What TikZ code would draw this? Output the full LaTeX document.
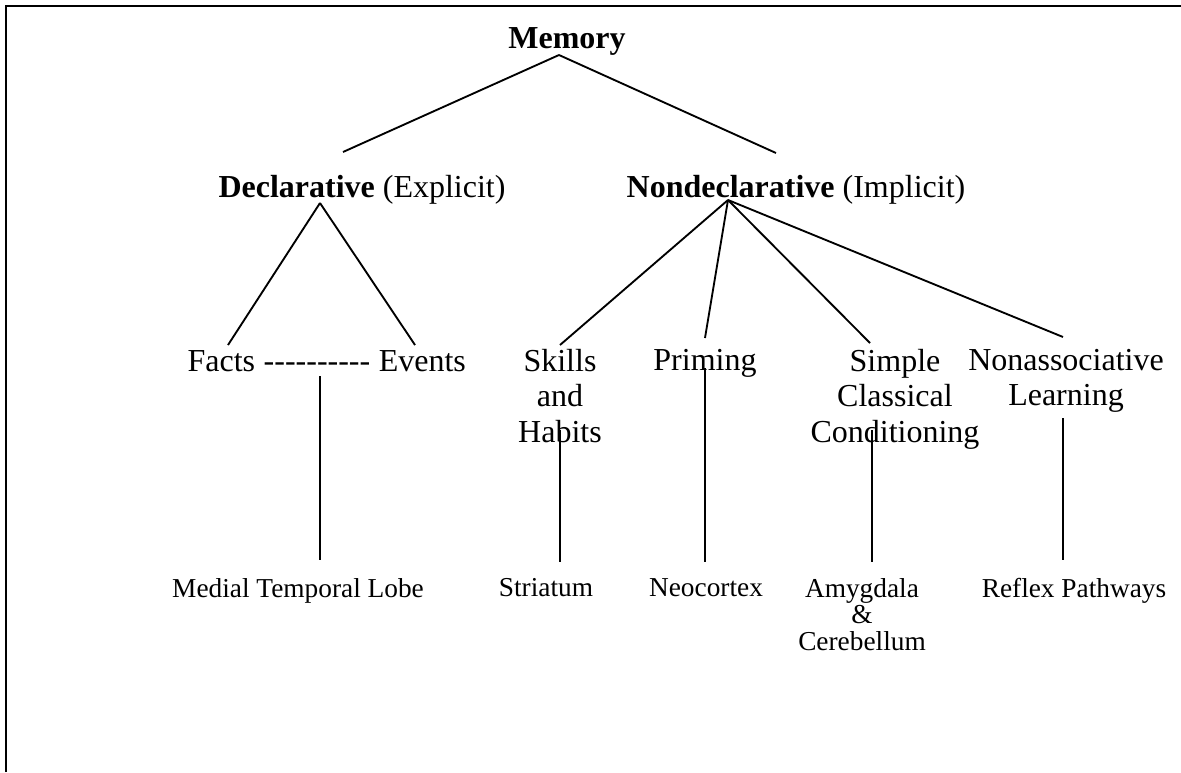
\documentclass[tikz,border=0pt]{standalone}
\usepackage{fontspec}
\setmainfont{Liberation Serif}[Ligatures=TeXOff]
\usepackage{tikz}
\usetikzlibrary{positioning}

\begin{document}
\begin{tikzpicture}[x=0.75pt, y=-0.75pt,
    big/.style={font=\fontsize{24}{26.5}\selectfont, inner sep=0pt, align=center},
    small/.style={font=\fontsize{20.5}{20}\selectfont, inner sep=0pt, align=center},
    link/.style={line width=1.4pt}]
    \useasboundingbox (0,0) rectangle (1181,772);
    \draw[line width=2pt] (6,772) -- (6,6) -- (1181,6);

    % top levels
    \node[big, anchor=base] (mem) at (567,48) {\textbf{Memory}};
    \node[big, anchor=base] (decl) at (362,197) {\textbf{Declarative} (Explicit)};
    \node[big, anchor=base] (nondecl) at (796,197) {\textbf{Nondeclarative} (Implicit)};

    \coordinate (memroot) at (559,55);
    \coordinate (declin) at (343,152);
    \coordinate (nondeclin) at (776,153);
    \draw[link] (memroot) -- (declin);
    \draw[link] (memroot) -- (nondeclin);

    % memory types
    \node[big, anchor=base] (dashes) at (317,371) {----------};
    \node[big, base left=6pt of dashes] (facts) {Facts};
    \node[big, base right=6pt of dashes] (events) {Events};
    \node[big, anchor=north] (skills) at (560,349) {Skills\\and\\Habits};
    \node[big, anchor=north] (priming) at (705,349) {Priming};
    \node[big, anchor=north] (simple) at (895,349) {Simple\\Classical\\Conditioning};
    \node[big, anchor=north] (nonassoc) at (1066,349) {Nonassociative\\Learning};

    \coordinate (declroot) at (320,203);
    \coordinate (nondeclroot) at (728,200);
    \coordinate (factsin) at (228,345);
    \coordinate (eventsin) at (415,345);
    \coordinate (skillsin) at (560,345);
    \coordinate (primingin) at (705,338);
    \coordinate (simplein) at (870,343);
    \coordinate (nonassocin) at (1063,337);
    \draw[link] (declroot) -- (factsin);
    \draw[link] (declroot) -- (eventsin);
    \draw[link] (nondeclroot) -- (skillsin);
    \draw[link] (nondeclroot) -- (primingin);
    \draw[link] (nondeclroot) -- (simplein);
    \draw[link] (nondeclroot) -- (nonassocin);

    % brain regions
    \node[small, anchor=north] (mtl) at (298,578) {Medial Temporal Lobe};
    \node[small, anchor=north] (striatum) at (546,578) {Striatum};
    \node[small, anchor=north] (neocortex) at (706,578) {Neocortex};
    \node[small, anchor=north] (amygdala) at (862,578) {Amygdala\\\&\\Cerebellum};
    \node[small, anchor=north] (reflex) at (1074,578) {Reflex Pathways};

    \coordinate (mtlout) at (320,376);
    \coordinate (skillsout) at (560,430);
    \coordinate (primingout) at (705,368);
    \coordinate (simpleout) at (872,430);
    \coordinate (nonassocout) at (1063,418);
    \draw[link] (mtlout) -- (mtlout |- 0,560);
    \draw[link] (skillsout) -- (skillsout |- 0,562);
    \draw[link] (primingout) -- (primingout |- 0,562);
    \draw[link] (simpleout) -- (simpleout |- 0,562);
    \draw[link] (nonassocout) -- (nonassocout |- 0,560);
\end{tikzpicture}
\end{document}
